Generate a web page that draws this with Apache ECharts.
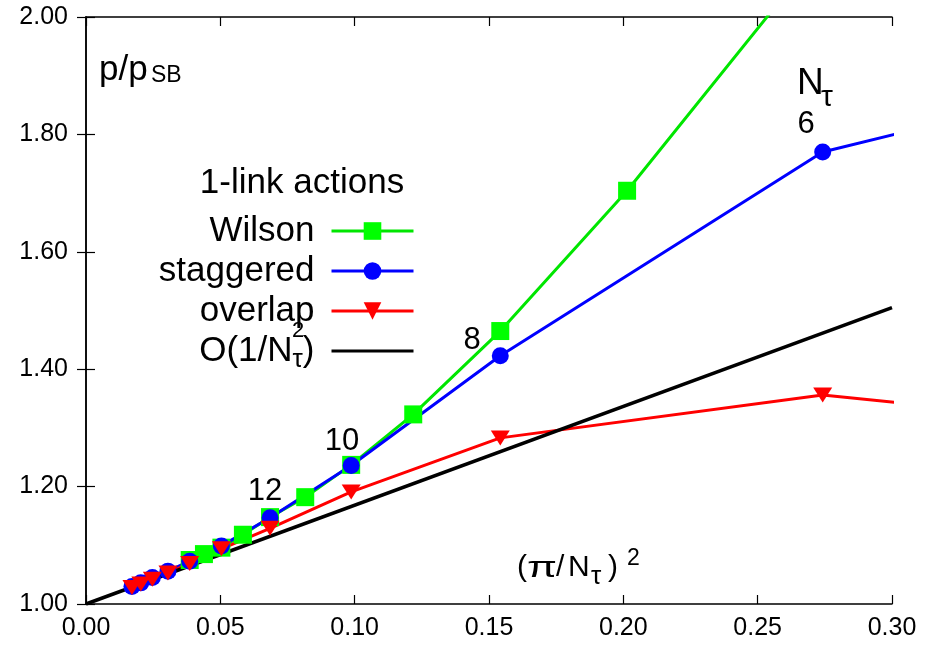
<!DOCTYPE html>
<html>
<head>
<meta charset="utf-8">
<script src="https://cdn.jsdelivr.net/npm/echarts@6/dist/echarts.min.js"></script>
<style>
  body { margin: 0; background: #fff; }
  #main { width: 937px; height: 645px; }
</style>
</head>
<body>
<div id="main"></div>
<script>
// (pi/Ntau)^2 positions and p/p_SB values
const xWilson = [0.0386, 0.0439, 0.0504, 0.0584, 0.0685, 0.0816, 0.0987, 0.1218, 0.1542, 0.2014, 0.2742];
const yWilson = [1.075, 1.085, 1.096, 1.118, 1.148, 1.182, 1.237, 1.323, 1.465, 1.704, 2.118];

const xStag = [0.0171, 0.0204, 0.0247, 0.0305, 0.0386, 0.0504, 0.0685, 0.0987, 0.1542, 0.2742, 0.6169];
const yStag = [1.030, 1.036, 1.045, 1.056, 1.073, 1.099, 1.147, 1.236, 1.423, 1.770, 2.156];

const xOver = [0.0171, 0.0204, 0.0247, 0.0305, 0.0386, 0.0504, 0.0685, 0.0987, 0.1542, 0.2742, 0.6169];
const yOver = [1.028, 1.034, 1.042, 1.053, 1.069, 1.094, 1.129, 1.191, 1.283, 1.356, 1.198];

const xLO = [0.0, 0.30];
const yLO = [1.0, 1.505];

const FONT = 'Liberation Sans, Arial, sans-serif';

function pairs(xs, ys) {
  return xs.map((x, i) => [x, ys[i]]);
}

var chart = echarts.init(document.getElementById('main'));

var legendBase = {
  orient: 'vertical',
  align: 'right',
  right: 522,
  padding: 0,
  itemWidth: 82,
  itemHeight: 22,
  selectedMode: false,
  lineStyle: { width: 3 },
  textStyle: { fontSize: 35, color: '#000', fontFamily: FONT, lineHeight: 40, padding: [0, 12, 0, 0] }
};

var tickAxis = {
  axisLine: { show: true, lineStyle: { color: '#000', width: 1.5 } },
  axisTick: { show: true, inside: true, length: 9, lineStyle: { color: '#000', width: 1.2 } },
  splitLine: { show: false }
};

function txt(x, y, s, size, align, extra) {
  return Object.assign({
    type: 'text', x: x, y: y,
    style: { text: s, font: size + 'px ' + FONT, fill: '#000', align: align || 'left', verticalAlign: 'middle' }
  }, extra || {});
}

var option = {
  backgroundColor: '#fff',
  animation: false,
  grid: { left: 86, right: 45, top: 17, bottom: 41 },
  xAxis: [
    Object.assign({
      type: 'value', min: 0, max: 0.30, interval: 0.05, position: 'bottom',
      axisLabel: { fontSize: 25, color: '#000', fontFamily: FONT, margin: 12,
                   formatter: v => v.toFixed(2) }
    }, tickAxis),
    Object.assign({
      type: 'value', min: 0, max: 0.30, interval: 0.05, position: 'top',
      axisLabel: { show: false }
    }, tickAxis)
  ],
  yAxis: [
    Object.assign({
      type: 'value', min: 1.0, max: 2.0, interval: 0.2, position: 'left',
      axisLabel: { fontSize: 25, color: '#000', fontFamily: FONT, margin: 18,
                   formatter: v => v.toFixed(2) }
    }, tickAxis),
    Object.assign({
      type: 'value', min: 1.0, max: 2.0, interval: 0.2, position: 'right',
      axisLabel: { show: false }
    }, tickAxis)
  ],
  legend: [
    Object.assign({}, legendBase, { data: ['Wilson'], top: 211 }),
    Object.assign({}, legendBase, { data: ['staggered'], top: 251 }),
    Object.assign({}, legendBase, { data: ['overlap'], top: 291 }),
    Object.assign({}, legendBase, {
      data: ['O(1/N2)'], top: 331,
      itemStyle: { opacity: 0 },
      formatter: () => '{a|O(1/N}{b|τ}{a|)}',
      textStyle: Object.assign({}, legendBase.textStyle, {
        rich: {
          a: { fontSize: 35, fontFamily: FONT, color: '#000' },
          b: { fontSize: 26, fontFamily: FONT, color: '#000', padding: [18, 0, 0, 0] }
        }
      })
    })
  ],
  series: [
    {
      name: 'Wilson', type: 'line', data: pairs(xWilson, yWilson),
      symbol: 'rect', symbolSize: 18,
      itemStyle: { color: '#00ff00' },
      lineStyle: { color: '#00e600', width: 3 }
    },
    {
      name: 'staggered', type: 'line', data: pairs(xStag, yStag),
      symbol: 'circle', symbolSize: 17,
      itemStyle: { color: '#0000ff' },
      lineStyle: { color: '#0000ff', width: 3 }
    },
    {
      name: 'overlap', type: 'line', data: pairs(xOver, yOver),
      symbol: 'path://M0,0L20,0L10,15Z', symbolSize: [19, 15],
      itemStyle: { color: '#ff0000' },
      lineStyle: { color: '#ff0000', width: 3 }
    },
    {
      name: 'O(1/N2)', type: 'line', data: pairs(xLO, yLO),
      symbol: 'none',
      itemStyle: { color: '#000' },
      lineStyle: { color: '#000', width: 3.5 }
    }
  ],
  graphic: [
    txt(99, 70, 'p/p', 35),
    txt(151, 76, 'SB', 23),
    txt(302, 183, '1-link actions', 35, 'center'),
    txt(298, 331, '2', 22, 'center'),
    txt(797, 84, 'N', 37),
    txt(821, 98, 'τ', 30),
    txt(806, 124, '6', 31, 'center'),
    txt(472, 340, '8', 31, 'center'),
    txt(342, 441, '10', 31, 'center'),
    txt(265, 491, '12', 31, 'center'),
    txt(517, 568, '(', 30),
    txt(542, 569, 'π', 30, 'center', { scaleX: 1.45, scaleY: 1.0 }),
    txt(556, 568, '/', 30),
    txt(568, 568, 'N', 30),
    txt(591, 577, 'τ', 26),
    txt(608, 568, ')', 30),
    txt(627, 559, '2', 23)
  ]
};

chart.setOption(option);
</script>
</body>
</html>
